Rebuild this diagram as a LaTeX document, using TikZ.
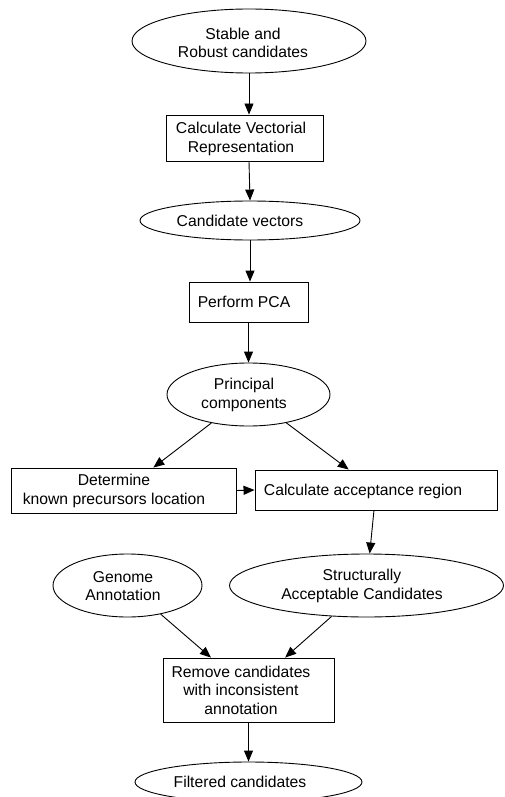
\documentclass[tikz,border=0pt]{standalone}
\usepackage{fontspec}
\setmainfont{Liberation Sans}
\usetikzlibrary{shapes.geometric,arrows.meta,calc}
\begin{document}
\begin{tikzpicture}[x=1pt,y=-1pt,
  line width=0.9pt,
  oval/.style={draw,ellipse,inner sep=0pt},
  box/.style={draw,rectangle,inner sep=0pt},
  txt/.style={align=center,inner sep=0pt,font=\fontsize{15.7pt}{18.5pt}\selectfont},
  arr/.style={-{Triangle[length=11pt,width=9pt]}}]
\useasboundingbox (0,0) rectangle (504,797);
\begin{scope}
\clip (0,0) rectangle (504,797);
% shapes
\node[oval,minimum width=234pt,minimum height=64pt] (src) at (249,41) {};
\node[box,minimum width=157pt,minimum height=46pt] (vec) at (244.5,138) {};
\node[oval,minimum width=220pt,minimum height=39pt] (cv) at (250,220.5) {};
\node[box,minimum width=119pt,minimum height=40pt] (pca) at (248.5,302) {};
\node[oval,minimum width=163pt,minimum height=63pt] (pc) at (248.5,394.5) {};
\node[box,minimum width=225pt,minimum height=45pt] (det) at (123.5,490.5) {};
\node[box,minimum width=242pt,minimum height=40pt] (acc) at (376,490) {};
\node[oval,minimum width=149pt,minimum height=63pt] (gen) at (127.5,585.5) {};
\node[oval,minimum width=274pt,minimum height=63pt] (sac) at (366.5,585.5) {};
\node[box,minimum width=171pt,minimum height=64pt] (rem) at (248.5,690) {};
\node[oval,minimum width=227pt,minimum height=40pt] (fil) at (248.5,782) {};
\end{scope}
% texts
\node[txt] (srct) at (243,43) {Stable and\\Robust candidates};
\node[txt] (vect) at (241,139) {Calculate Vectorial\\Representation};
\node[txt] (cvt) at (240,221) {Candidate vectors};
\node[txt] (pcat) at (244,302) {Perform PCA};
\node[txt] (pct) at (244,395) {Principal\\components};
\node[txt] (dett) at (114,491) {Determine\\known precursors location};
\node[txt] (acct) at (363,491) {Calculate acceptance region};
\node[txt] (gent) at (123,586) {Genome\\Annotation};
\node[txt] (sact) at (362,586) {Structurally\\Acceptable Candidates};
\node[txt] (remt) at (241,690) {Remove candidates\\with inconsistent\\annotation};
\node[txt] (filt) at (240,782) {Filtered candidates};
% connectors
\draw[arr] (src.south) -- (src.south |- vec.north);
\draw[arr] (src.south |- vec.south) -- (cv.north);
\draw[arr] (cv.south) -- (cv.south |- pca.north);
\draw[arr] (pca.south) -- (pc.north);
\draw[arr] (pc) -- (det);
\draw[arr] (pc) -- (acc);
\draw[arr] (det.east) -- (acc.west);
\draw[arr] (acc) -- (sac);
\draw[arr] (gen) -- (rem);
\draw[arr] (sac) -- (rem);
\draw[arr] (rem.south) -- (fil.north);
\end{tikzpicture}
\end{document}
